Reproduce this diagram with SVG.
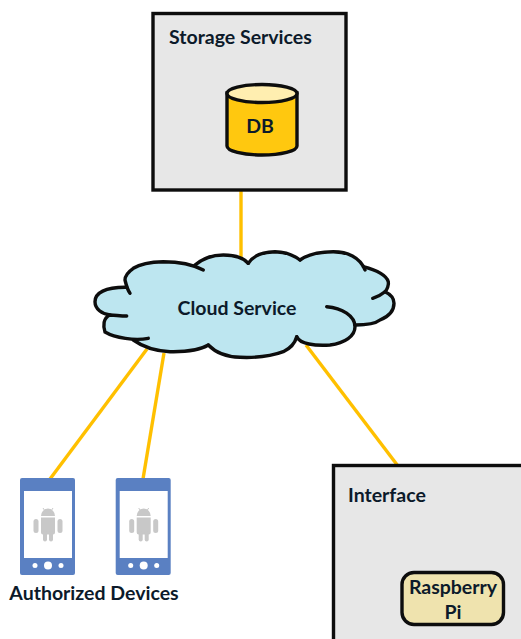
<svg xmlns="http://www.w3.org/2000/svg" width="521" height="639" viewBox="0 0 521 639">
<style>
text{font-family:"Lato","Liberation Sans",sans-serif;font-weight:700;font-size:19.500px;fill:#0c1a2a}
.box{fill:#e7e7e7;stroke:#0d0d0d;stroke-width:3.400}
.ln{stroke:#ffc000;stroke-width:3.400;fill:none}
.k{stroke:#0d0d0d;stroke-width:3.400;fill:none;stroke-linecap:round}
.and{fill:#c8c8c8}
</style>
<defs>
<g id="phone">
<rect x="20" y="478" width="55" height="97" rx="2" fill="#5a80c2"/>
<rect x="24" y="491" width="48" height="67" fill="#fff"/>
<circle cx="35" cy="565.500" r="2.500" fill="#fff"/>
<circle cx="48" cy="565.500" r="4" fill="#fff"/>
<circle cx="61" cy="565.500" r="2.500" fill="#fff"/>
<path class="and" d="M41 516a7 7.500 0 0 1 14 0zM41 517.500h14v15a2 2 0 0 1-2 2h-10a2 2 0 0 1-2-2z"/>
<rect class="and" x="33.500" y="519" width="5" height="14" rx="2.500"/>
<rect class="and" x="57.500" y="519" width="5" height="14" rx="2.500"/>
<rect class="and" x="43" y="531" width="4" height="10.500" rx="2"/>
<rect class="and" x="49" y="531" width="4" height="10.500" rx="2"/>
<path d="M43 508l2 3M53 508l-2 3" stroke="#c8c8c8" fill="none"/>
</g>
</defs>
<g id="connectors">
<path class="ln" d="M241 190V258"/>
<path class="ln" d="M147 349L50 479"/>
<path class="ln" d="M164 353L143 479"/>
<path class="ln" d="M306 345L398 466"/>
</g>
<g id="storage">
<rect class="box" x="153" y="13.500" width="193" height="176.500"/>
<text x="169" y="44">Storage Services</text>
</g>
<g id="db">
<path d="M227 93V146C227 151 243 155 262 155S297 151 297 146V93Z" fill="#ffc80f" stroke="#0d0d0d" stroke-width="3.400"/>
<ellipse cx="262" cy="93.500" rx="35" ry="9" fill="#ffeeb0" stroke="#0d0d0d" stroke-width="3.400"/>
<text x="260" y="133" text-anchor="middle">DB</text>
</g>
<g id="cloud">
<path fill="#bde6f0" d="M126.700 287.300C105 287 95 293 95 301.700C95 309 102 314 110 315C103 318 103.300 322 103.300 326.700C105 334 115 338 133.300 340C143 347 155 351 170 351.700C185 352 200 350 208.300 345C216 353 227 357 240 357.300C258 358 272 356 283.300 351.700C291 348 295 343 296.700 336.700C298 342 315 346 330 345C345 343 355 336 355 326.700C365 327 375 325 380 320C390 316 394 310 394 303.300C394 298 390 294 385 291.700C389 287 389 285 388.300 281.700C386 275 376 270 363.300 266.700C360 257 347 251.700 333.300 251.700C320 251.700 307 255 300 260C292 254 283 251.700 275 251.700C262 252 253 256 248.300 263.300C243 257 233 255 223.300 255C212 255 202 259 195 265C187 262 175 261.700 163.300 261.700C150 262 140 264 133.300 268.300C128 272 125 276 125 280C125 283 126 285 126.700 287.300Z"/>
<path class="k" d="M130 293.300C127 289 126 284 125 280C125 276 128 272 133.300 268.300C140 264 150 262 163.300 261.700C175 261.700 190 263 203.300 270"/>
<path class="k" d="M195 265C202 259 212 255 223.300 255C233 255 243 257 248.300 263.300"/>
<path class="k" d="M248.300 263.300C253 256 262 252 275 251.700C283 251.700 292 254 300 260"/>
<path class="k" d="M300 260C307 255 320 251.700 333.300 251.700C347 251.700 360 257 365 270"/>
<path class="k" d="M363.300 266.700C376 270 386 275 388.300 281.700C389 285 387 290 385 291.700C381 295 377 297 372.700 298.300"/>
<path class="k" d="M385 291.700C390 294 394 298 394 303.300C394 310 390 316 380 320C375 324 365 325 355 325"/>
<path class="k" d="M326.700 306.700C342 308 355 316 355 326.700C355 336 345 343 330 345C315 346 300 344 296.700 336.700"/>
<path class="k" d="M296.700 336.700C295 343 291 348 283.300 351.700C272 356 258 358 240 357.300C227 357 216 353 208.300 345"/>
<path class="k" d="M208.300 345C200 350 185 352 170 351.700C155 351 143 347 133.300 340"/>
<path class="k" d="M148.300 338.300C135 341 115 338 105 332C103 326 103 318 110 315C115 315 120 316 126.700 316"/>
<path class="k" d="M110 315C102 314 95 309 95 301.700C95 293 105 287 126.700 287.300"/>
<text x="237" y="315" text-anchor="middle">Cloud Service</text>
</g>
<g id="device-1"><use href="#phone"/></g>
<g id="device-2"><use href="#phone" x="95.700"/></g>
<g id="devices-label"><text x="94" y="600" text-anchor="middle">Authorized Devices</text></g>
<g id="interface">
<rect class="box" x="333.500" y="465.500" width="230" height="220"/>
<text x="348" y="502">Interface</text>
</g>
<g id="raspberry">
<rect x="402" y="572.500" width="101.500" height="52" rx="12" fill="#efe3ae" stroke="#0d0d0d" stroke-width="3.400"/>
<text x="453" y="594" text-anchor="middle">Raspberry</text>
<text x="453" y="619" text-anchor="middle">Pi</text>
</g>
</svg>
